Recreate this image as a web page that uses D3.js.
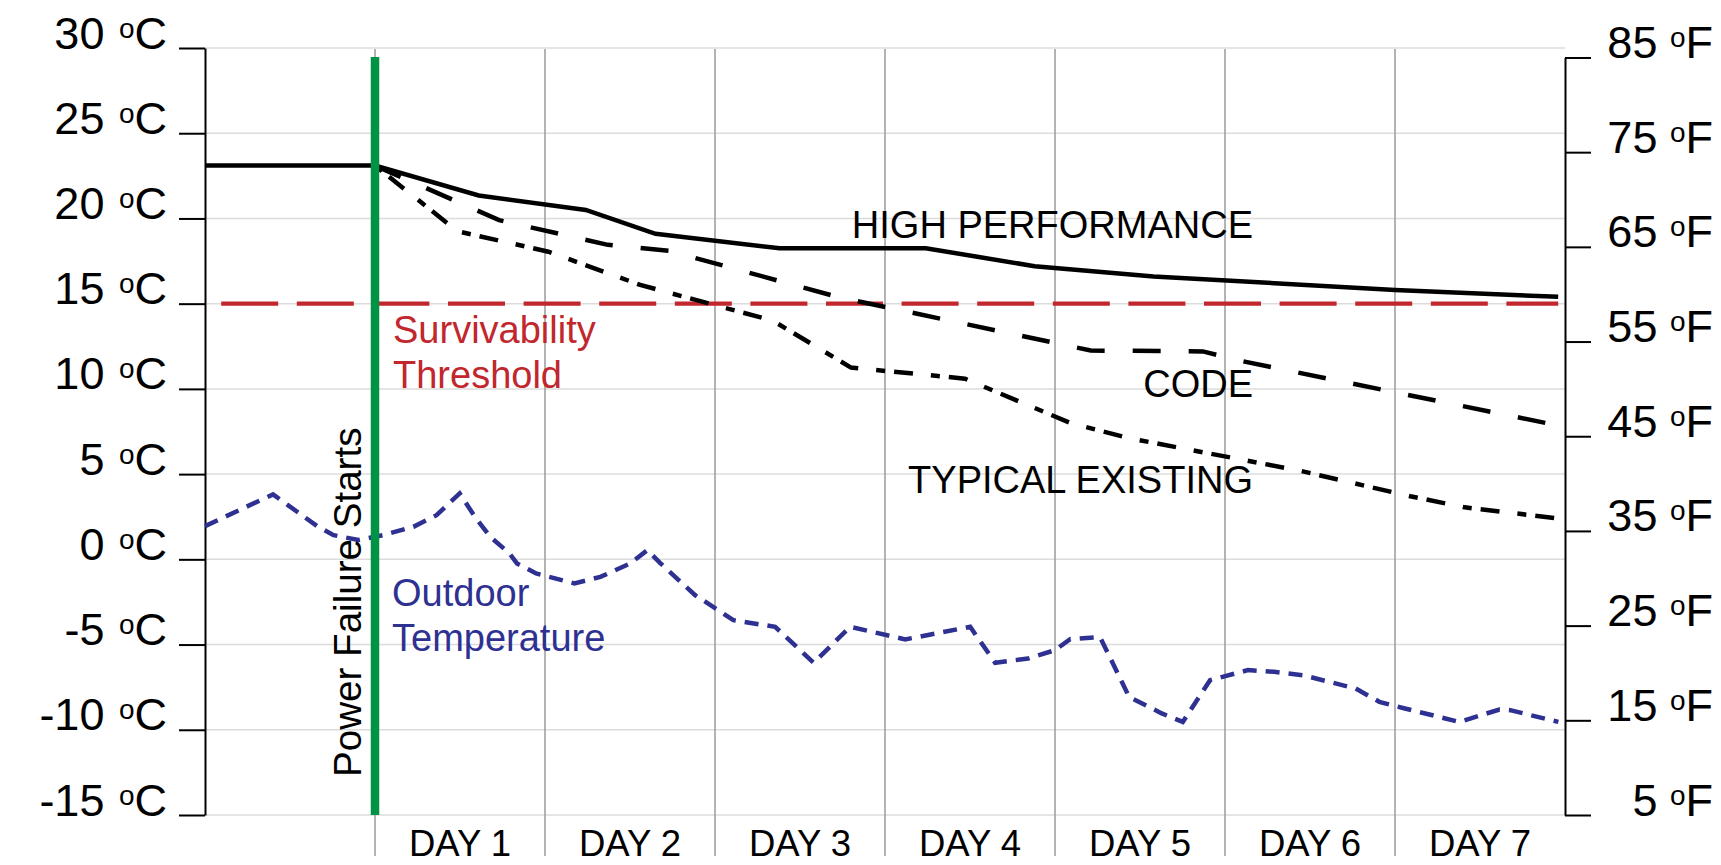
<!DOCTYPE html>
<html>
<head>
<meta charset="utf-8">
<script src="https://cdn.jsdelivr.net/npm/d3@7"></script>
<style>
  html, body { margin: 0; padding: 0; background: #fff; }
  svg { display: block; font-family: "Liberation Sans", Arial, Helvetica, sans-serif; }
</style>
</head>
<body>
<svg id="chart" width="1721" height="865"></svg>
<script>
// ---- data ---------------------------------------------------------------
// x = days since the power failure (day -1 is the normal state before it)
const dayLabels = ["DAY 1", "DAY 2", "DAY 3", "DAY 4", "DAY 5", "DAY 6", "DAY 7"];
const celsiusTicks = [-15, -10, -5, 0, 5, 10, 15, 20, 25, 30];
const fahrenheitTicks = [5, 15, 25, 35, 45, 55, 65, 75, 85];
const survivabilityC = 15;
const powerFailureDay = 0;
const thresholdSpan = [-1, 6.96];

// indoor temperature, °C
const highPerformance = [
  [-1, 23.1], [0, 23.1], [0.61, 21.35], [1.24, 20.5], [1.65, 19.1], [2.38, 18.25],
  [3.24, 18.25], [3.88, 17.2], [4.58, 16.6], [6.0, 15.8], [6.96, 15.4]
];
const codeBuilding = [
  [0, 23.1], [0.73, 19.9], [1.37, 18.45], [1.73, 18.1], [2.72, 15.4], [4.21, 12.25],
  [4.87, 12.2], [5.09, 11.65], [6.96, 7.85]
];
const typicalExisting = [
  [0, 23.1], [0.485, 19.25], [1.02, 18.05], [1.56, 16.1], [2.34, 14.0], [2.8, 11.25],
  [3.47, 10.6], [4.09, 8.0], [4.44, 7.1], [5.44, 5.2], [6.09, 3.7], [6.41, 3.05], [6.96, 2.4]
];
// outdoor temperature, °C
const outdoorTemp = [
  [-1, 1.95], [-0.6, 3.81], [-0.335, 1.91], [-0.244, 1.42], [-0.098, 1.13], [0.048, 1.42],
  [0.226, 1.91], [0.362, 2.59], [0.498, 3.87], [0.588, 2.49], [0.678, 1.32], [0.791, 0.35],
  [0.835, -0.24], [0.948, -0.83], [1.173, -1.41], [1.326, -1.03], [1.501, -0.24], [1.602, 0.54],
  [1.678, -0.22], [1.883, -2.1], [2.018, -2.98], [2.108, -3.57], [2.354, -3.96], [2.58, -6.07],
  [2.795, -3.96], [3.119, -4.7], [3.501, -3.96], [3.648, -6.07], [3.842, -5.82], [4.0, -5.33],
  [4.089, -4.68], [4.265, -4.56], [4.436, -8.07], [4.628, -9.04], [4.752, -9.54], [4.912, -7.09],
  [5.135, -6.5], [5.288, -6.6], [5.459, -6.8], [5.769, -7.58], [5.908, -8.36], [6.058, -8.75],
  [6.379, -9.54], [6.614, -8.81], [6.678, -8.85], [6.961, -9.54]
];

// ---- layout -------------------------------------------------------------
const svg = d3.select("#chart");
const x = d3.scaleLinear().domain([-1, 7]).range([205, 1565]);
const y = d3.scaleLinear().domain([-15, 30]).range([815, 48]);
const f2c = f => (f - 32) * 5 / 9;
const yF = d3.scaleLinear()
  .domain([5, 85])
  .range([y(f2c(5)), y(f2c(85))]);

const gridTop = y(30), gridBottom = 856;
const RED = "#c1272d", BLUE = "#2e3192", GREEN = "#009245";
const NOTE_SIZE = 38;

// horizontal grid
svg.append("g")
  .selectAll("line").data(celsiusTicks).join("line")
  .attr("x1", x(-1)).attr("x2", x(7))
  .attr("y1", d => y(d)).attr("y2", d => y(d))
  .attr("stroke", "#dcdcdc").attr("stroke-width", 1.5);

// day separators
svg.append("g")
  .selectAll("line").data(d3.range(0, 7)).join("line")
  .attr("x1", d => x(d)).attr("x2", d => x(d))
  .attr("y1", gridTop + 1).attr("y2", gridBottom)
  .attr("stroke", "#9a9a9a").attr("stroke-width", 1.5);

// day labels
svg.append("g")
  .selectAll("text").data(dayLabels).join("text")
  .attr("x", (d, i) => x(i + 0.5)).attr("y", 856)
  .attr("text-anchor", "middle")
  .attr("font-size", 36.5).attr("fill", "#000")
  .text(d => d);

// unit label with raised "o"
function degreeLabel(sel, unit, gap) {
  sel.each(function (d) {
    const t = d3.select(this);
    t.text(null);
    t.append("tspan").text(d + " ");
    t.append("tspan").attr("font-size", 28).attr("dx", gap).attr("dy", -11).text("o");
    t.append("tspan").attr("dy", 11).text(unit);
  });
}

// left axis (°C)
const axL = svg.append("g").attr("transform", `translate(${x(-1)},0)`)
  .call(d3.axisLeft(y).tickValues(celsiusTicks).tickSize(26).tickSizeOuter(0).tickPadding(12));
axL.attr("font-family", null);
axL.select(".domain").attr("stroke", "#000").attr("stroke-width", 2);
axL.selectAll(".tick line").attr("stroke", "#000").attr("stroke-width", 2);
axL.selectAll(".tick text")
  .attr("dy", 0).attr("font-size", 45).attr("fill", "#000")
  .call(degreeLabel, "C", 2);

// right axis (°F)
const axR = svg.append("g").attr("transform", `translate(${x(7)},0)`)
  .call(d3.axisRight(yF).tickValues(fahrenheitTicks).tickSize(26).tickSizeOuter(0).tickPadding(0));
axR.attr("font-family", null);
axR.select(".domain").attr("stroke", "#000").attr("stroke-width", 2);
axR.selectAll(".tick line").attr("stroke", "#000").attr("stroke-width", 2);
axR.selectAll(".tick text")
  .attr("dy", 0).attr("font-size", 45).attr("fill", "#000")
  .attr("text-anchor", "end").attr("x", 1713 - x(7))
  .call(degreeLabel, "F", 0);

// survivability threshold
svg.append("line")
  .attr("x1", x(thresholdSpan[0])).attr("x2", x(thresholdSpan[1]))
  .attr("y1", y(survivabilityC)).attr("y2", y(survivabilityC))
  .attr("stroke", RED).attr("stroke-width", 4.2)
  .attr("stroke-dasharray", "57,18.6").attr("stroke-dashoffset", 59.4);

// temperature curves
const line = d3.line().x(d => x(d[0])).y(d => y(d[1]));
const curves = [
  { data: highPerformance, color: "#000", width: 4.5, dash: null },
  { data: codeBuilding, color: "#000", width: 4.5, dash: "28,28" },
  { data: typicalExisting, color: "#000", width: 4.5, dash: "9,9,19,18" },
  { data: outdoorTemp, color: BLUE, width: 4.5, dash: "14,9" }
];
svg.append("g").selectAll("path").data(curves).join("path")
  .attr("d", d => line(d.data))
  .attr("fill", "none")
  .attr("stroke", d => d.color)
  .attr("stroke-width", d => d.width)
  .attr("stroke-dasharray", d => d.dash)
  .attr("stroke-linejoin", "miter");

// power failure marker
svg.append("line")
  .attr("x1", x(powerFailureDay)).attr("x2", x(powerFailureDay))
  .attr("y1", 57).attr("y2", y(-15))
  .attr("stroke", GREEN).attr("stroke-width", 8.5);

svg.append("text")
  .attr("transform", `translate(${x(powerFailureDay) - 14},777) rotate(-90)`)
  .attr("font-size", 38.6).attr("fill", "#000")
  .text("Power Failure Starts");

// curve annotations
const notes = [
  { lines: ["HIGH PERFORMANCE"], x: 1253, y: 238, anchor: "end", color: "#000" },
  { lines: ["CODE"], x: 1253, y: 397, anchor: "end", color: "#000" },
  { lines: ["TYPICAL EXISTING"], x: 1253, y: 493, anchor: "end", color: "#000" },
  { lines: ["Survivability", "Threshold"], x: 393, y: 343, anchor: "start", color: RED },
  { lines: ["Outdoor", "Temperature"], x: 392, y: 606, anchor: "start", color: BLUE }
];
const noteG = svg.append("g").selectAll("text").data(notes).join("text")
  .attr("x", d => d.x).attr("y", d => d.y)
  .attr("text-anchor", d => d.anchor)
  .attr("font-size", NOTE_SIZE).attr("fill", d => d.color);
noteG.each(function (d) {
  d3.select(this).selectAll("tspan").data(d.lines).join("tspan")
    .attr("x", d.x).attr("dy", (l, i) => i === 0 ? 0 : 44.5)
    .text(l => l);
});
</script>
</body>
</html>
